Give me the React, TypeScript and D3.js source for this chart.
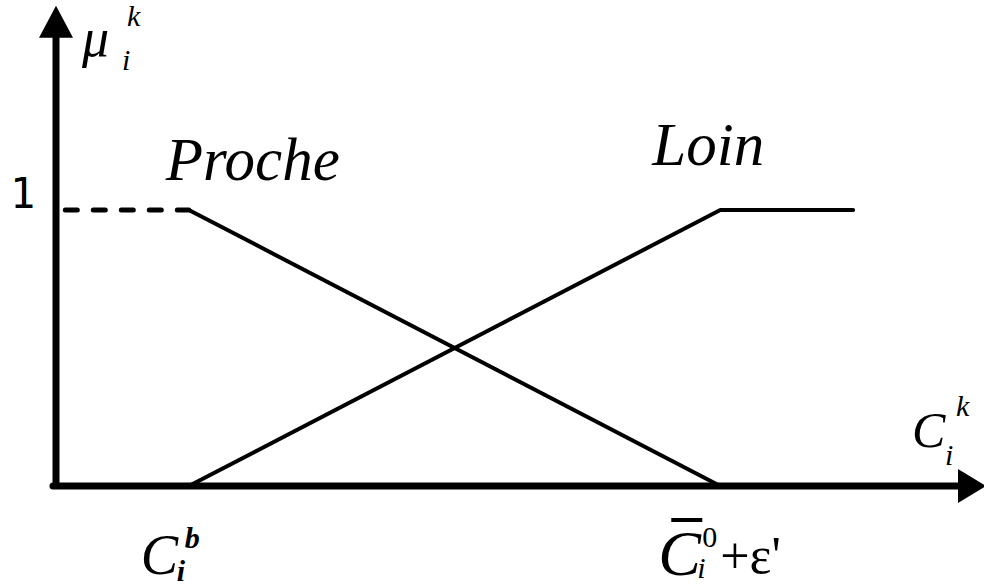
import * as React from "react"
import * as d3 from "d3"

// membership functions (x in abstract units: 1 = C_i^b, 5 = C̄_i^0 + ε')
const procheX = [1, 5]
const procheY = [1, 0]
const procheDashX = [0.07, 1]
const loinX = [1, 5, 6]
const loinY = [0, 1, 1]
const yTicks = [1]
const xAxisMax = 7
const yAxisMax = 1.74

const width = 984
const height = 588
const serif = { fontFamily: '"Liberation Serif", "Times New Roman", serif' }
const serifIt = { ...serif, fontStyle: "italic" }

function App() {
    const x = d3.scaleLinear().domain([0, xAxisMax]).range([56, 986])
    const y = d3.scaleLinear().domain([0, 1]).range([486, 210])

    const line = d3.line<[number, number]>()
        .x((d) => x(d[0]))
        .y((d) => y(d[1]))

    const proche: [number, number][] = procheX.map((v, i) => [v, procheY[i]])
    const procheDash: [number, number][] = procheDashX.map((v) => [v, 1])
    const loin: [number, number][] = loinX.map((v, i) => [v, loinY[i]])

    const x0 = x(0)
    const y0 = y(0)
    const yTop = y(yAxisMax)
    const xEnd = x(xAxisMax)

    return (
        <svg width={width} height={height} style={{ position: "absolute", left: 0, top: 0 }}>
            <rect width={width} height={height} fill="#fff" />

            {/* axes */}
            <path d={`M${x0},${y0}V${yTop + 28}`} stroke="#000" strokeWidth={7} fill="none" />
            <path d={`M${x0 - 3},${y0}H${xEnd - 26}`} stroke="#000" strokeWidth={7} fill="none" strokeLinecap="round" />
            <path d={`M${x0},${yTop}L${x0 - 17},${yTop + 32}L${x0 + 17},${yTop + 32}Z`} fill="#000" />
            <path d={`M${xEnd},${y0}L${xEnd - 28},${y0 - 17}L${xEnd - 28},${y0 + 17}Z`} fill="#000" />

            {/* y tick label */}
            {yTicks.map((t) => (
                <text key={t} x={10} y={y(t) - 2} style={{ fontFamily: '"DejaVu Sans Mono", monospace' }} fontSize={42}>{t}</text>
            ))}

            {/* membership lines */}
            <path d={line(procheDash) || ""} stroke="#000" strokeWidth={5} strokeDasharray="12 16" strokeLinecap="round" fill="none" />
            <path d={line(proche) || ""} stroke="#000" strokeWidth={4} fill="none" />
            <path d={line(loin) || ""} stroke="#000" strokeWidth={4} fill="none" strokeLinejoin="round" strokeLinecap="round" />

            {/* curve labels */}
            <text x={x(1) - 23} y={y(1) - 30} style={serifIt} fontSize={61}>Proche</text>
            <text x={x(5) - 68} y={y(1) - 45} style={serifIt} fontSize={61}>Loin</text>

            {/* y axis title: mu_i^k */}
            <g style={serifIt}>
                <text x={82} y={56} fontSize={54}>μ</text>
                <text x={127} y={26} fontSize={30}>k</text>
                <text x={122} y={70} fontSize={30}>i</text>
            </g>

            {/* x axis title: C_i^k */}
            <g style={serifIt}>
                <text x={912} y={447} fontSize={50}>C</text>
                <text x={956} y={416} fontSize={30}>k</text>
                <text x={945} y={465} fontSize={30}>i</text>
            </g>

            {/* x tick: C_i^b */}
            <g style={serifIt}>
                <text x={x(1) - 48} y={574} fontSize={56}>C</text>
                <text x={x(1) - 4} y={548} fontSize={30} fontWeight="bold">b</text>
                <text x={x(1) - 12} y={581} fontSize={30} fontWeight="bold">i</text>
            </g>

            {/* x tick: C̄_i^0 + ε' */}
            <g style={serif}>
                <text x={x(5) - 62} y={575} fontSize={64} fontStyle="italic">C</text>
                <rect x={x(5) - 49} y={518} width={31} height={4} fill="#000" />
                <text x={x(5) - 18} y={547} fontSize={30}>0</text>
                <text x={x(5) - 23} y={578} fontSize={30} fontStyle="italic">i</text>
                <text x={x(5)} y={573} fontSize={52}>+ε'</text>
            </g>
        </svg>
    )
}

export default App
